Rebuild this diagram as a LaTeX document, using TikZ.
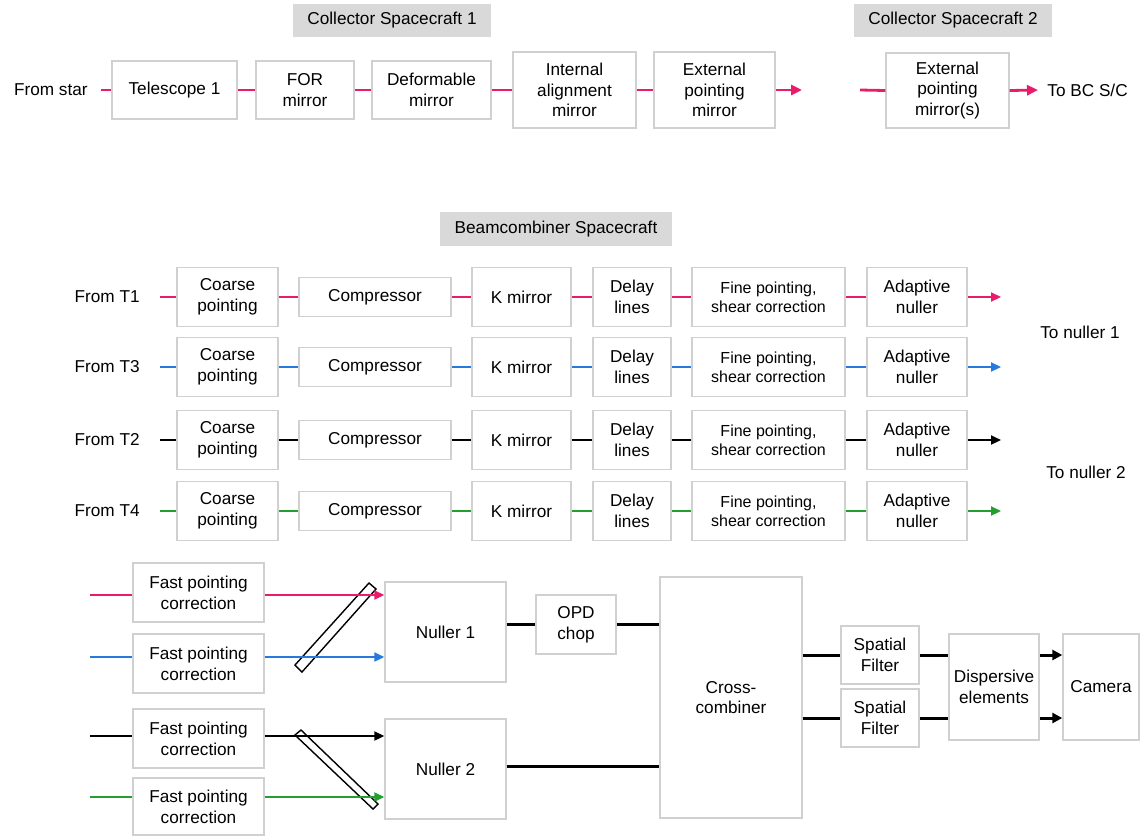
\documentclass[tikz,border=0pt]{standalone}
\usepackage{fontspec}
\setmainfont{Liberation Sans}
\usetikzlibrary{arrows.meta}
\definecolor{pk}{RGB}{232,28,106}
\definecolor{bl}{RGB}{38,122,222}
\definecolor{gn}{RGB}{36,158,48}
\definecolor{bx}{RGB}{208,208,208}
\definecolor{gr}{RGB}{217,217,217}
% \bbox{style}{name}{x1}{y1}{x2}{y2}{text}
\newcommand\bbox[7]{\node[#1, minimum width={((#5)-(#3))*0.5pt}, minimum height={((#6)-(#4))*0.5pt}] (#2) at ({((#3)+(#5))/2},{((#4)+(#6))/2}) {#7};}
\begin{document}
\begin{tikzpicture}[x=0.5pt,y=-0.5pt,
  txt/.style={font=\fontsize{8.6}{10.4}\selectfont},
  box/.style={txt, draw=bx, line width=0.7pt, fill=white, inner sep=0pt, align=center},
  smallbox/.style={box, font=\fontsize{8}{9.6}\selectfont},
  hdr/.style={txt, fill=gr, inner sep=0pt},
  lbl/.style={txt, inner sep=0pt},
  ln/.style={line width=1pt},
  tln/.style={line width=1.4pt},
  bln/.style={line width=1.5pt},
  ar/.style={line width=1pt, -{Triangle[length=5pt,width=4.5pt]}},
  tar/.style={line width=1.4pt, -{Triangle[length=5.5pt,width=5pt]}},
  bar/.style={line width=1.5pt, -{Triangle[length=5pt,width=5pt]}},
  mirrorplate/.style={draw=black, line width=0.7pt, fill=white}
]
\useasboundingbox (0,0) rectangle (1144,836);

% ---------- Collector spacecraft ----------
\bbox{hdr}{cs1}{293}{4}{491}{37}{Collector Spacecraft 1}
\bbox{hdr}{cs2}{854}{4}{1052}{37}{Collector Spacecraft 2}

\node[lbl, anchor=east] (fs) at (88,90) {From star};
\coordinate (fsd) at (101,90);
\bbox{box}{tel}{112}{61}{237}{119}{Telescope 1}
\bbox{box}{for}{256}{61}{354}{119}{FOR\\mirror}
\bbox{box}{def}{372}{61}{491}{119}{Deformable\\mirror}
\bbox{box}{int}{513}{52}{636}{128}{Internal\\alignment\\mirror}
\bbox{box}{ext}{654}{52}{775}{128}{External\\pointing\\mirror}
\coordinate (exto) at (802,90);
\coordinate (ext2i) at (860,90);
\bbox{box}{ext2}{886}{53}{1009}{128}{External\\pointing\\mirror(s)}
\coordinate (bco) at (1038,90);
\node[lbl, anchor=west] (tobc) at (1047,90) {To BC S/C};

\draw[tln,pk] (fsd) -- (tel.west);
\draw[tln,pk] (tel.east) -- (for.west);
\draw[tln,pk] (for.east) -- (def.west);
\draw[tln,pk] (def.east) -- (int.west);
\draw[tln,pk] (int.east) -- (ext.west);
\draw[tar,pk] (ext.east) -- (exto);
\draw[tln,pk] (ext2i) -- (ext2.west);
\draw[tar,pk] (ext2.east) -- (bco);

% ---------- Beamcombiner spacecraft ----------
\bbox{hdr}{bc}{440}{212}{672}{246}{Beamcombiner Spacecraft}

\foreach \r/\yc/\c/\t in {1/297/pk/T1, 2/367/bl/T3, 3/440/black/T2, 4/511/gn/T4}{
  \node[lbl, anchor=east] (ft\r) at (140,\yc) {From \t};
  \coordinate (s\r) at (160,\yc);
  \bbox{box}{cp\r}{177}{\yc-29.5}{278}{\yc+29.5}{Coarse\\pointing}
  \bbox{box}{co\r}{299}{\yc-19.5}{451}{\yc+19.5}{Compressor}
  \bbox{box}{km\r}{472}{\yc-29.5}{571}{\yc+29.5}{K mirror}
  \bbox{box}{dl\r}{593}{\yc-29.5}{671}{\yc+29.5}{Delay\\lines}
  \bbox{smallbox}{fp\r}{692}{\yc-29.5}{845}{\yc+29.5}{Fine pointing,\\shear correction}
  \bbox{box}{an\r}{867}{\yc-29.5}{967}{\yc+29.5}{Adaptive\\nuller}
  \coordinate (e\r) at (1001,\yc);
  \draw[ln,\c] (s\r) -- (cp\r.west);
  \draw[ln,\c] (cp\r.east) -- (co\r.west);
  \draw[ln,\c] (co\r.east) -- (km\r.west);
  \draw[ln,\c] (km\r.east) -- (dl\r.west);
  \draw[ln,\c] (dl\r.east) -- (fp\r.west);
  \draw[ln,\c] (fp\r.east) -- (an\r.west);
  \draw[ar,\c] (an\r.east) -- (e\r);
}
\node[lbl] (tn1) at (1080,332) {To nuller 1};
\node[lbl] (tn2) at (1086,472) {To nuller 2};

% ---------- Bottom section ----------
\bbox{box}{f1}{133}{563}{264}{622}{Fast pointing\\correction}
\bbox{box}{f2}{133}{634}{264}{693}{Fast pointing\\correction}
\bbox{box}{f3}{133}{709}{264}{768}{Fast pointing\\correction}
\bbox{box}{f4}{133}{778}{264}{835}{Fast pointing\\correction}

\bbox{box}{n1}{385}{582}{506}{682}{Nuller 1}
\bbox{box}{n2}{385}{719}{506}{819}{Nuller 2}
\bbox{box}{opd}{536}{595}{616}{654}{OPD\\chop}
\bbox{box}{cc}{660}{577}{802}{818}{Cross-\\combiner}
\bbox{box}{sf1}{841}{626}{919}{684}{Spatial\\Filter}
\bbox{box}{sf2}{841}{689}{919}{747}{Spatial\\Filter}
\bbox{box}{de}{949}{634}{1039}{740}{Dispersive\\elements}
\bbox{box}{cam}{1063}{634}{1139}{740}{Camera}

% beam splitter plates
\draw[mirrorplate] (295,665) -- (369,583) -- (376,589) -- (302,672) -- cycle;
\draw[mirrorplate] (295,735) -- (301,730) -- (378,804) -- (373,809) -- cycle;

\coordinate (i1) at (90,595);
\coordinate (i2) at (90,657);
\coordinate (i3) at (90,736);
\coordinate (i4) at (90,797);
\draw[ln,pk] (i1) -- (i1 -| f1.west);
\draw[ln,bl] (i2) -- (i2 -| f2.west);
\draw[ln,black] (i3) -- (i3 -| f3.west);
\draw[ln,gn] (i4) -- (i4 -| f4.west);
\draw[ar,pk] (i1 -| f1.east) -- (i1 -| n1.west);
\draw[ar,bl] (i2 -| f2.east) -- (i2 -| n1.west);
\draw[ar,black] (i3 -| f3.east) -- (i3 -| n2.west);
\draw[ar,gn] (i4 -| f4.east) -- (i4 -| n2.west);

\draw[bln] (n1.east |- opd.west) -- (opd.west);
\draw[bln] (opd.east) -- (opd.east -| cc.west);
\draw[bln] (n2.east |- 0,766) -- (cc.west |- 0,766);
\draw[bln] (cc.east |- sf1.west) -- (sf1.west);
\draw[bln] (cc.east |- sf2.west) -- (sf2.west);
\draw[bln] (sf1.east) -- (sf1.east -| de.west);
\draw[bln] (sf2.east) -- (sf2.east -| de.west);
\draw[bar] (de.east |- sf1.east) -- (cam.west |- sf1.east);
\draw[bar] (de.east |- sf2.east) -- (cam.west |- sf2.east);
\end{tikzpicture}
\end{document}
